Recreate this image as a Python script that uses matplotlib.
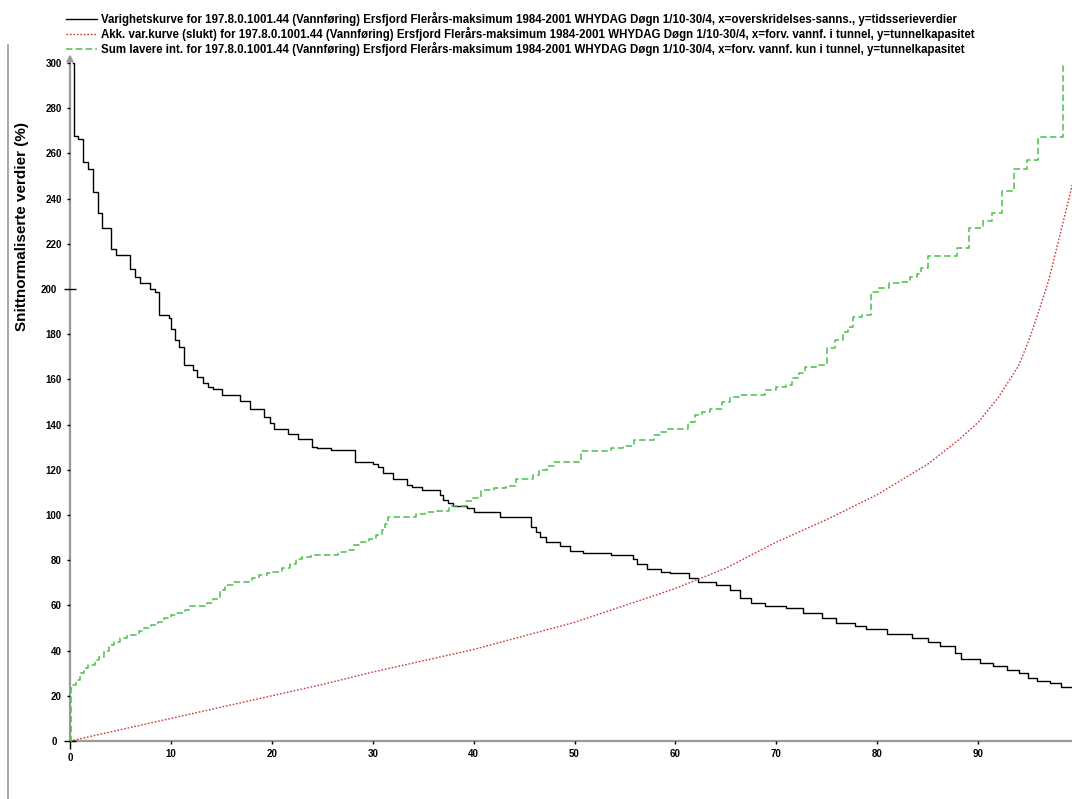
import matplotlib
matplotlib.use("Agg")
import matplotlib.pyplot as plt
from matplotlib.ticker import FixedLocator, FormatStrFormatter
from matplotlib.lines import Line2D

plt.rcParams['font.family'] = ['Liberation Sans', 'DejaVu Sans']

# ---- data ----
labels = [
    "Varighetskurve for 197.8.0.1001.44 (Vannføring) Ersfjord Flerårs-maksimum 1984-2001 WHYDAG Døgn 1/10-30/4, x=overskridelses-sanns., y=tidsserieverdier",
    "Akk. var.kurve (slukt) for 197.8.0.1001.44 (Vannføring) Ersfjord Flerårs-maksimum 1984-2001 WHYDAG Døgn 1/10-30/4, x=forv. vannf. i tunnel, y=tunnelkapasitet",
    "Sum lavere int. for 197.8.0.1001.44 (Vannføring) Ersfjord Flerårs-maksimum 1984-2001 WHYDAG Døgn 1/10-30/4, x=forv. vannf. kun i tunnel, y=tunnelkapasitet",
]

# duration curve (step, post): start x of each step and its value
dur_x = [0.3, 0.35, 0.8, 1.3, 1.8, 2.3, 2.8, 3.2, 4.1, 4.6, 5.95, 6.45, 6.95, 7.95, 8.4,
         8.8, 9.8, 10.0, 10.4, 10.85, 11.3, 12.2, 12.6, 13.2, 13.7, 14.2, 15.1, 16.8, 17.8,
         19.2, 19.8, 20.2, 21.65, 22.6, 24.0, 24.5, 25.9, 28.2, 30.0, 30.5, 31.0, 32.0,
         33.4, 33.9, 34.9, 36.7, 37.0, 37.5, 38.0, 39.3, 40.0, 42.6, 45.7, 46.2, 46.6,
         47.2, 48.6, 49.6, 50.8, 53.6, 55.8, 56.2, 57.2, 58.6, 59.5, 61.3, 62.2, 64.0,
         65.4, 66.4, 67.5, 68.9, 71.0, 72.6, 74.5, 75.9, 77.8, 78.9, 81.0, 83.4, 85.0,
         86.2, 87.7, 88.3, 90.2, 91.5, 92.9, 94.0, 94.9, 95.8, 97.1, 98.2, 99.3]
dur_y = [300, 267.7, 266.4, 256.4, 253, 243, 233.6, 227, 217.7, 215, 208.8, 205.5, 202.8,
         200, 198.8, 188.5, 187, 182.5, 177.4, 174.2, 166.4, 164.2, 161.2, 158.5, 156.8,
         155.6, 153.2, 150.6, 146.8, 143.5, 140.6, 138, 135.7, 133.5, 130.3, 129.8, 128.6,
         123.5, 122.5, 121.2, 118.6, 115.9, 113.3, 112.4, 111.1, 108.8, 106.6, 105.2, 104.0,
         102.9, 101.5, 99.3, 94.8, 92.6, 90.4, 88.2, 86.4, 84.2, 83.0, 82.3, 80.4, 78.2,
         76.2, 74.9, 74.2, 72.0, 70.5, 69.0, 66.8, 63.1, 60.9, 59.7, 58.7, 56.7, 54.3, 52.3,
         50.9, 49.4, 47.3, 45.4, 43.9, 42.0, 39.1, 36.5, 34.3, 33.2, 31.4, 30.0, 27.7, 26.7,
         25.5, 23.7, 23.7]

# accumulated duration curve (smooth)
akk_x = [0, 5, 10, 15, 20, 25, 30, 35, 40, 45, 50, 55, 60, 65, 70, 75, 80, 85, 88, 90,
         92, 94, 95, 96, 97, 98, 99, 99.3]
akk_y = [0, 5, 10, 15, 20, 25, 30.5, 35.5, 40.5, 46.5, 52.5, 60, 67.5, 76.5, 88, 98,
         109, 122.5, 133, 141, 152, 166, 177, 190, 204, 222, 240, 246]

# sum of lower intervals (step, post)
sum_x = [0, 0.05, 0.3, 0.6, 1.0, 1.4, 1.8, 2.5, 2.9, 3.4, 3.9, 4.4, 5.0, 5.6, 6.8, 7.3, 8.0,
         8.7, 9.3, 10.0, 10.6, 11.4, 11.9, 13.6, 14.2, 14.9, 15.4, 16.2, 18.0, 18.7, 19.5,
         20.1, 21.0, 21.8, 22.4, 23.0, 23.9, 26.6, 27.4, 28.1, 28.8, 29.6, 30.3, 30.9, 31.2,
         31.5, 34.3, 35.2, 36.4, 37.6, 39.2, 39.9, 40.7, 42.0, 43.2, 44.2, 45.9, 46.5, 47.3,
         48.0, 50.6, 53.6, 54.8, 55.9, 57.9, 58.6, 59.3, 61.2, 61.9, 62.6, 63.4, 64.6, 65.4,
         66.3, 68.9, 70.0, 71.0, 71.6, 72.2, 72.8, 73.9, 75.0, 75.8, 76.6, 77.1, 77.6, 78.5,
         79.4, 80.2, 81.2, 82.3, 83.2, 83.9, 84.3, 85.0, 87.9, 89.1, 90.5, 91.4, 92.4, 93.6,
         94.8, 95.9, 98.4]
sum_y = [0, 23.4, 25, 27, 30, 32.5, 33.6, 35.8, 37.2, 40, 42.5, 44, 45.5, 46.9, 48.5, 50,
         51.3, 52.8, 54.3, 55.8, 56.5, 58, 59.7, 61.2, 62.7, 66.8, 69, 70.5, 72, 73.3, 74.2,
         75, 76.4, 78.5, 80.4, 81.5, 82.3, 83.8, 84.5, 86.7, 88.2, 89.4, 91.2, 93.5, 96,
         99.3, 100.5, 101.5, 101.9, 104.0, 106.3, 107.4, 111.0, 111.8, 112.8, 115.8, 117.7,
         120, 121.7, 123.6, 128.2, 129.5, 130.5, 133.3, 135.4, 136.7, 138.2, 141.2, 144.2,
         145.6, 146.7, 150.1, 152.3, 153.1, 155.3, 156.5, 157.5, 160.5, 162.7, 165.6, 166.4,
         173.8, 177.4, 181.1, 183.3, 187.7, 188.5, 198.8, 200.3, 202.5, 203.2, 205.4, 206.6,
         209.2, 214.6, 218.0, 227.0, 230.0, 233.5, 243.3, 253.3, 257.0, 267.4, 300]

x_ticks = list(range(0, 100, 10))
y_ticks = list(range(0, 301, 20))
y_label = "Snittnormaliserte verdier (%)"

# ---- figure ----
W, H = 1072, 799
fig = plt.figure(figsize=(W / 100, H / 100), dpi=100)
ax = fig.add_axes([70 / W, 58 / H, (W - 70) / W, 678 / H])
ax.set_xlim(0, 99.3)
ax.set_ylim(0, 300)

l1, = ax.step(dur_x, dur_y, where='post', color='black', lw=1.0, label=labels[0])
l2, = ax.plot(akk_x, akk_y, color='#cc3a3a', lw=1.0, linestyle=(0, (1.2, 1.3)), label=labels[1])
l3, = ax.step(sum_x, sum_y, where='post', color='#4cbf4c', lw=1.1, linestyle=(0, (4.2, 2.2)),
              label=labels[2])
for ln in (l1, l2, l3):
    ln.set_clip_on(False)

for s in ('top', 'right', 'left'):
    ax.spines[s].set_visible(False)
ax.spines['bottom'].set_color('#9a9a9a')
ax.spines['bottom'].set_linewidth(1.6)
ax.spines['bottom'].set_zorder(0.5)

# y axis drawn as arrow
ax.annotate('', xy=(0, 1.013), xycoords='axes fraction', xytext=(0, 0),
            textcoords='axes fraction',
            arrowprops=dict(arrowstyle='->', color='#9a9a9a', lw=1.6,
                            shrinkA=0, shrinkB=0, mutation_scale=9), zorder=0.5)

# ticks
ax.yaxis.set_major_locator(FixedLocator([0, 200]))
ax.yaxis.set_minor_locator(FixedLocator([t for t in y_ticks if t not in (0, 200)]))
ax.yaxis.set_major_formatter(FormatStrFormatter('%d'))
ax.yaxis.set_minor_formatter(FormatStrFormatter('%d'))
ax.xaxis.set_major_locator(FixedLocator([0]))
ax.xaxis.set_minor_locator(FixedLocator([t for t in x_ticks if t != 0]))
ax.xaxis.set_major_formatter(FormatStrFormatter('%d'))
ax.xaxis.set_minor_formatter(FormatStrFormatter('%d'))

ax.tick_params(axis='y', which='major', direction='inout', length=8.5, width=1.0,
               color='black', pad=5.0, labelsize=7)
ax.tick_params(axis='x', which='major', direction='out', length=5.5, width=1.0,
               color='black', pad=3.0, labelsize=7)
ax.tick_params(axis='both', which='minor', direction='out', length=2.5, width=1.0,
               color='black', pad=3.5, labelsize=7)
for lab in ax.get_xticklabels(which='both') + ax.get_yticklabels(which='both'):
    lab.set_fontweight('bold')

fig.text(22 / W, 1 - 226 / H, y_label, rotation=90, ha='center', va='center',
         fontsize=11, fontweight='bold')

# left border line
fig.add_artist(Line2D([8 / W, 8 / W], [0, 1 - 45 / H], transform=fig.transFigure,
                      color='#9a9a9a', lw=1.2))

fig.legend(handles=[l1, l2, l3], loc='upper left', bbox_to_anchor=(66 / W, 1 - 12 / H),
           frameon=False, handlelength=2.7, handletextpad=0.35,
           labelspacing=0.1, borderpad=0, borderaxespad=0,
           prop={'weight': 'bold', 'size': 8.3})

fig.savefig('out.png', dpi=100)
